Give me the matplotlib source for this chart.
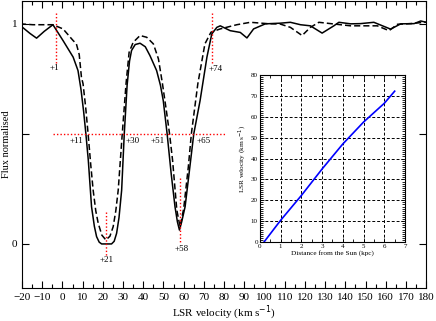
import numpy as np
import matplotlib.pyplot as plt

plt.rcParams['font.family'] = ['Liberation Serif', 'DejaVu Serif']

# solid profile (LSR velocity km/s, normalised flux)
v_solid = [-20, -16, -12.8, -9, -4.7, 0.3, 5.3, 7.7, 9.2, 10.5, 11.6, 12.8, 14.4, 15.8, 16.9,
           18.2, 19.4, 24.3, 25.6, 26.8, 28.0, 29.3, 30.6, 32.0, 33.2, 34.2, 36.0, 38.4,
           41.0, 43.3, 46.6, 48.5, 49.9, 51.8, 53.8, 55.7, 56.9, 57.9, 59.0, 60.7, 62.8,
           65.0, 68.1, 71.5, 73.9, 76.4, 78.1, 83.0, 88.0, 91.3, 94.6, 100.4, 107.8, 112.8,
           117.8, 122.7, 128.5, 134.3, 136.8, 142.6, 147.5, 154.1, 162.4, 167.4, 174.0,
           177.3, 180.0]
f_solid = [0.985, 0.955, 0.934, 0.965, 0.995, 0.923, 0.848, 0.787, 0.70, 0.60, 0.50, 0.38,
           0.169, 0.08, 0.033, 0.008, 0.0, 0.0, 0.012, 0.048, 0.12, 0.244, 0.50, 0.72, 0.83,
           0.878, 0.905, 0.911, 0.895, 0.855, 0.787, 0.72, 0.65, 0.50, 0.32, 0.169, 0.10,
           0.063, 0.10, 0.169, 0.33, 0.50, 0.65, 0.848, 0.953, 0.983, 0.99, 0.968, 0.96,
           0.935, 0.976, 0.999, 1.002, 1.006, 0.995, 0.99, 0.957, 0.99, 1.006, 0.999, 1.0,
           1.006, 0.975, 0.999, 1.0, 1.012, 1.006]

# dashed profile
v_dash = [-21, -14.6, -8.8, -4.7, 0.3, 5.3, 6.9, 8.3, 9.4, 10.2, 11.5, 12.7, 14.0, 15.2,
          16.5, 17.7, 19.5, 21.5, 23.5, 25.1, 26.4, 27.6, 29.6, 31.5, 33.0, 35.0, 38.4,
          41.7, 45.0, 47.5, 49.5, 51.5, 53.0, 54.5, 56.6, 58.2, 60.0, 62.3, 63.8, 67.0,
          70.5, 73.5, 78.1, 86.3, 93.0, 101.2, 107.8, 112.8, 118.6, 122.7, 126.9, 132.7,
          142.6, 155.8, 161.6, 165.8, 172.4, 179.0, 180.0]
f_dash = [0.999, 0.995, 0.995, 0.995, 0.976, 0.923, 0.908, 0.86, 0.757, 0.727, 0.62, 0.50,
          0.36, 0.244, 0.15, 0.094, 0.04, 0.018, 0.035, 0.078, 0.15, 0.244, 0.50, 0.73, 0.87,
          0.915, 0.946, 0.938, 0.908, 0.84, 0.727, 0.60, 0.50, 0.38, 0.154, 0.078, 0.16,
          0.35, 0.50, 0.727, 0.908, 0.961, 0.976, 0.995, 1.006, 1.0, 0.998, 0.983, 0.946,
          0.983, 1.006, 1.0, 0.99, 0.99, 0.968, 0.997, 1.0, 1.006, 1.006]

# marked velocities
marks = ['+1', '+74', '+11', '+30', '+51', '+65', '+21', '+58']

# inset: distance vs LSR velocity
dist = [0.2, 1.0, 2.0, 3.0, 4.0, 5.0, 6.0, 6.5]
vlsr = [0.0, 10.4, 22.3, 35.0, 47.0, 57.5, 66.5, 72.3]

fig = plt.figure(figsize=(4.36, 3.21), dpi=100)
ax = fig.add_axes([0.0505, 0.1028, 0.927, 0.895])

ax.plot(v_solid, f_solid, color='black', lw=1.1)
ax.plot(v_dash, f_dash, color='black', lw=1.1, linestyle=(0, (4, 2)))

red = dict(color='red', linestyle=(0, (1, 1.5)), lw=1.0)
ax.plot([-4.7, 80.6], [0.5, 0.5], **red)
ax.plot([-3.3, -3.3], [1.05, 0.82], **red)
ax.plot([74.2, 74.2], [1.05, 0.82], **red)
ax.plot([21.8, 21.8], [0.145, -0.06], **red)
ax.plot([58.2, 58.2], [0.30, 0.005], **red)

fs = 6.5
ax.text(-3.8, 0.797, marks[0], fontsize=fs, ha='center', va='center')
ax.text(75.7, 0.796, marks[1], fontsize=fs, ha='center', va='center')
ax.text(7.1, 0.467, marks[2], fontsize=fs, ha='center', va='center')
ax.text(34.7, 0.467, marks[3], fontsize=fs, ha='center', va='center')
ax.text(47.0, 0.467, marks[4], fontsize=fs, ha='center', va='center')
ax.text(69.8, 0.467, marks[5], fontsize=fs, ha='center', va='center')
ax.text(22.0, -0.075, marks[6], fontsize=fs, ha='center', va='center')
ax.text(58.8, -0.024, marks[7], fontsize=fs, ha='center', va='center')

ax.set_xlim(-20, 180)
ax.set_ylim(-0.2, 1.104)
ax.set_xticks(np.arange(-20, 181, 10))
ax.set_xticks(np.arange(-20, 181, 5), minor=True)
ax.set_yticks([0, 0.5, 1])
ax.set_yticklabels(['0', '', '1'])
ax.tick_params(which='both', direction='in', top=True, right=True, labelsize=8, width=0.8)
ax.tick_params(which='major', length=5)
ax.tick_params(which='minor', length=3)
ax.set_xlabel('LSR velocity (km s$^{-1}$)', fontsize=8, labelpad=1.5)
ax.set_ylabel('Flux normalised', fontsize=7.5, labelpad=0.5)

# inset
ins = fig.add_axes([0.596, 0.246, 0.333, 0.520])
ins.plot(dist, vlsr, color='blue', lw=1.2)
ins.set_xlim(0, 7)
ins.set_ylim(0, 80)
ins.set_xticks(np.arange(0, 8, 1))
ins.set_xticks(np.arange(0, 7.01, 0.5), minor=True)
ins.set_yticks(np.arange(0, 81, 10))
ins.set_yticks(np.arange(0, 81, 1), minor=True)
ins.grid(True, which='major', color='black', linestyle=(0, (3, 2)), lw=0.7)
ins.tick_params(which='both', direction='in', top=True, right=True, labelsize=5, width=0.6, pad=1.5)
ins.tick_params(which='major', length=3)
ins.tick_params(which='minor', length=2)
ins.set_xlabel('Distance from the Sun (kpc)', fontsize=5.2, labelpad=1)
ins.set_ylabel('LSR velocity (km s$^{-1}$)', fontsize=5.2, labelpad=1)

fig.savefig('out.png', dpi=100)
